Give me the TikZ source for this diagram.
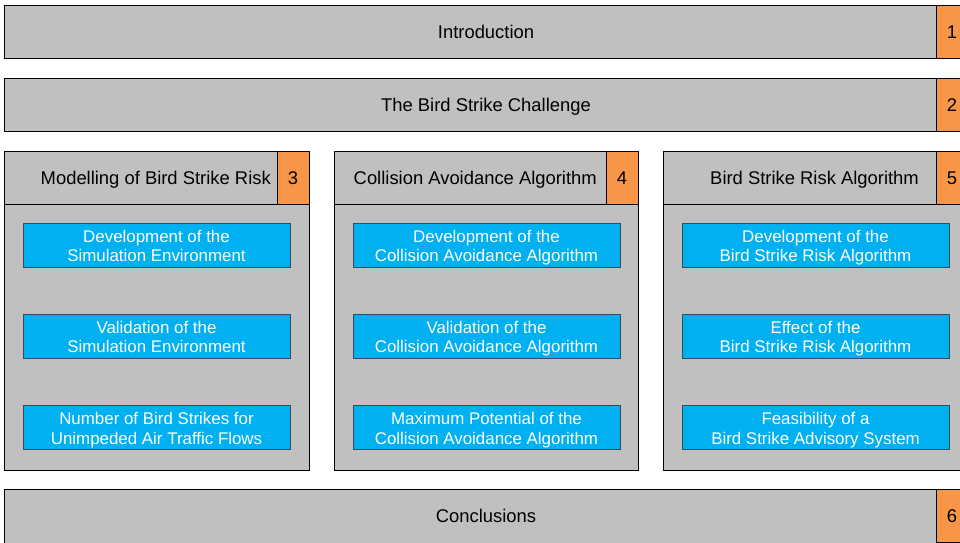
\documentclass[tikz,border=0pt]{standalone}
\usepackage{fontspec}
\setmainfont{Liberation Sans}
\definecolor{panelgrey}{HTML}{C0C0C0}
\definecolor{numorange}{HTML}{F79646}
\definecolor{taskblue}{HTML}{00B0F0}
\definecolor{taskedge}{HTML}{3A4A5A}
\begin{document}
\begin{tikzpicture}[x=1pt,y=-1pt,
  panel/.style={draw=black, line width=1.3pt, fill=panelgrey, inner sep=0pt, anchor=north west},
  numbox/.style={draw=black, line width=1.3pt, fill=numorange, inner sep=0pt, anchor=north east,
    minimum width=32pt, minimum height=53pt},
  head/.style={font=\fontsize{18.4}{21}\selectfont, text=black, inner sep=0pt, anchor=base},
  task/.style={draw=taskedge, line width=0.9pt, fill=taskblue, inner sep=0pt,
    minimum width=267pt, minimum height=44pt},
  tasktext/.style={text=white, align=center, inner sep=0pt,
    font=\fontsize{16.9}{19.5}\selectfont},
]
\useasboundingbox (0,0) rectangle (960,542);
\clip (0,0) rectangle (960,542);

% full-width chapters
\node[panel, minimum width=964pt, minimum height=53pt] (intro) at (4,5) {};
\node[numbox] (n1) at (intro.north east) {};
\node[head] (k1) at (952,38.5) {1};
\node[head] (tintro) at (486,38.5) {Introduction};

\node[panel, minimum width=964pt, minimum height=53pt] (chal) at (4,78) {};
\node[numbox] (n2) at (chal.north east) {};
\node[head] (k2) at (952,111.5) {2};
\node[head] (tchal) at (486,111.5) {The Bird Strike Challenge};

\node[panel, minimum width=964pt, minimum height=60pt] (concl) at (4,489) {};
\node[numbox] (n6) at (concl.north east) {};
\node[head] (k6) at (952,522.5) {6};
\node[head] (tconcl) at (486,522.5) {Conclusions};

% column chapters
\node[panel, minimum width=305pt, minimum height=319pt] (c1) at (4,151) {};
\node[panel, minimum width=305pt, minimum height=53pt] (h1) at (4,151) {};
\node[numbox] (n3) at (h1.north east) {};
\node[head] (k3) at (293,184.5) {3};
\node[head, anchor=base east] (th1) at (271,184.5) {Modelling of Bird Strike Risk};

\node[panel, minimum width=304pt, minimum height=319pt] (c2) at (334,151) {};
\node[panel, minimum width=304pt, minimum height=53pt] (h2) at (334,151) {};
\node[numbox] (n4) at (h2.north east) {};
\node[head] (k4) at (622,184.5) {4};
\node[head, anchor=base east] (th2) at (597,184.5) {Collision Avoidance Algorithm};

\node[panel, minimum width=305pt, minimum height=319pt] (c3) at (663,151) {};
\node[panel, minimum width=305pt, minimum height=53pt] (h3) at (663,151) {};
\node[numbox] (n5) at (h3.north east) {};
\node[head] (k5) at (952,184.5) {5};
\node[head, anchor=base east] (th3) at (919,184.5) {Bird Strike Risk Algorithm};

% sub-studies
\foreach \nm/\cx in {a/156.5, b/486.5, d/815.5}{
  \node[task] (\nm1) at (\cx,245) {};
  \node[task] (\nm2) at (\cx,336) {};
  \node[task] (\nm3) at (\cx,427.5) {};
}
\node[tasktext] (ta1) at (156.5,248) {Development of the\strut\\Simulation Environment\strut};
\node[tasktext] (ta2) at (156.5,339) {Validation of the\strut\\Simulation Environment\strut};
\node[tasktext] (ta3) at (156.5,430.5) {Number of Bird Strikes for\strut\\Unimpeded Air Traffic Flows\strut};

\node[tasktext] (tb1) at (486.5,248) {Development of the\strut\\Collision Avoidance Algorithm\strut};
\node[tasktext] (tb2) at (486.5,339) {Validation of the\strut\\Collision Avoidance Algorithm\strut};
\node[tasktext] (tb3) at (486.5,430.5) {Maximum Potential of the\strut\\Collision Avoidance Algorithm\strut};

\node[tasktext] (td1) at (815.5,248) {Development of the\strut\\Bird Strike Risk Algorithm\strut};
\node[tasktext] (td2) at (815.5,339) {Effect of the\strut\\Bird Strike Risk Algorithm\strut};
\node[tasktext] (td3) at (815.5,430.5) {Feasibility of a\strut\\Bird Strike Advisory System\strut};
\end{tikzpicture}
\end{document}
